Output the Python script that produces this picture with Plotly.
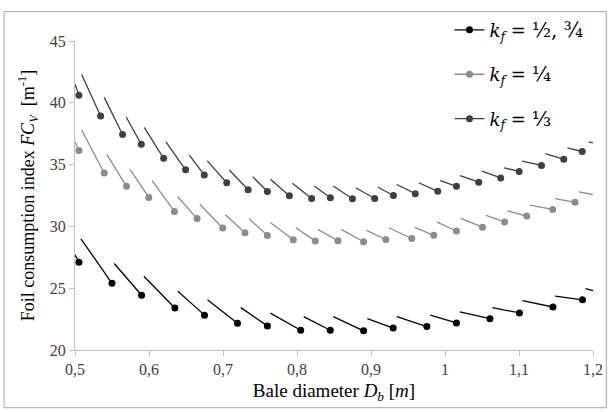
import plotly.graph_objects as go

# ---- data: each segment runs from a start point to a dot (end point) ----
# k_f = 1/2, 3/4 (black)
blk_start_x = [0.500, 0.508, 0.553, 0.593, 0.639, 0.679, 0.724, 0.764, 0.809, 0.849, 0.895, 0.935, 0.980, 1.020, 1.064, 1.1046, 1.149]
blk_start_y = [27.7, 29.0, 27.0, 25.96, 24.75, 24.06, 23.43, 22.98, 22.7, 22.7, 22.53, 22.7, 22.82, 23.09, 23.43, 24.0, 24.35]
blk_dot_x = [0.5053, 0.550, 0.590, 0.635, 0.675, 0.7196, 0.760, 0.805, 0.845, 0.890, 0.930, 0.9755, 1.0155, 1.0607, 1.1006, 1.1459, 1.1858]
blk_dot_y = [27.1, 25.4, 24.43, 23.4, 22.82, 22.16, 21.95, 21.6, 21.6, 21.55, 21.77, 21.9, 22.19, 22.53, 23.0, 23.48, 24.06]
blk_tail_x = [1.190, 1.200]
blk_tail_y = [24.96, 24.8]

# k_f = 1/4 (mid grey)
gry_start_x = [0.500, 0.509, 0.543, 0.5741, 0.6042, 0.6388, 0.6686, 0.7032, 0.7352, 0.7639, 0.7985, 0.8283, 0.8597, 0.8939, 0.9241, 0.9591, 0.9893, 1.0212, 1.0554, 1.0842, 1.1144, 1.149]
gry_start_y = [36.83, 37.8, 35.82, 34.64, 33.71, 32.4, 31.79, 30.94, 30.63, 30.31, 29.89, 29.76, 29.76, 29.68, 29.89, 29.92, 30.34, 30.65, 30.89, 31.26, 31.73, 32.24]
gry_dot_x = [0.5053, 0.5395, 0.5696, 0.5998, 0.6344, 0.665, 0.6996, 0.7297, 0.760, 0.795, 0.8247, 0.8553, 0.8899, 0.9201, 0.9551, 0.9848, 1.0154, 1.0506, 1.0806, 1.1105, 1.1455, 1.1757]
gry_dot_y = [36.14, 34.32, 33.24, 32.34, 31.21, 30.63, 29.87, 29.49, 29.26, 28.92, 28.81, 28.84, 28.76, 28.94, 29.02, 29.28, 29.63, 29.94, 30.36, 30.84, 31.37, 31.95]
gry_tail_x = [1.181, 1.200]
gry_tail_y = [32.79, 32.58]

# k_f = 1/3 (dark grey)
dk_start_x = [0.500, 0.509, 0.5395, 0.5692, 0.5936, 0.6229, 0.6544, 0.6788, 0.7085, 0.740, 0.764, 0.7937, 0.8234, 0.849, 0.8793, 0.909, 0.9348, 0.9645, 0.9937, 1.0204, 1.050, 1.0798, 1.1042, 1.1357, 1.1654]
dk_start_y = [41.5, 42.29, 40.44, 38.85, 38.01, 36.83, 35.77, 35.30, 34.56, 34.03, 33.82, 33.5, 33.27, 33.27, 33.13, 33.19, 33.39, 33.53, 33.71, 34.11, 34.48, 34.74, 35.29, 35.88, 36.35]
dk_dot_x = [0.5053, 0.5346, 0.5643, 0.5896, 0.6198, 0.6495, 0.6747, 0.705, 0.734, 0.760, 0.7897, 0.8198, 0.8451, 0.8749, 0.905, 0.9303, 0.9598, 0.9902, 1.0155, 1.0456, 1.0753, 1.1002, 1.1304, 1.1605, 1.1854]
dk_dot_y = [40.62, 38.93, 37.43, 36.64, 35.51, 34.58, 34.16, 33.53, 32.97, 32.82, 32.48, 32.26, 32.32, 32.24, 32.26, 32.5, 32.65, 32.84, 33.24, 33.58, 33.92, 34.45, 34.93, 35.43, 36.06]
dk_tail_x = [1.1943, 1.200]
dk_tail_y = [36.83, 36.75]

x_tick_vals = [0.5, 0.6, 0.7, 0.8, 0.9, 1.0, 1.1, 1.2]
x_tick_text = ["0,5", "0,6", "0,7", "0,8", "0,9", "1", "1,1", "1,2"]
y_tick_vals = [20, 25, 30, 35, 40, 45]

series = [
    ("<i>k<sub>f</sub></i> = <span style='font-size:20px'>½, ¾</span>", "#000000",
     blk_start_x, blk_start_y, blk_dot_x, blk_dot_y, blk_tail_x, blk_tail_y),
    ("<i>k<sub>f</sub></i> = <span style='font-size:20px'>¼</span>", "#8c8c8c",
     gry_start_x, gry_start_y, gry_dot_x, gry_dot_y, gry_tail_x, gry_tail_y),
    ("<i>k<sub>f</sub></i> = <span style='font-size:20px'>⅓</span>", "#404040",
     dk_start_x, dk_start_y, dk_dot_x, dk_dot_y, dk_tail_x, dk_tail_y),
]

fig = go.Figure()
for i, (name, color, sx, sy, dx, dy, tx, ty) in enumerate(series):
    lx, ly = [], []
    for a, b, c, d in zip(sx, sy, dx, dy):
        lx += [a, c, None]
        ly += [b, d, None]
    lx += tx
    ly += ty
    fig.add_trace(go.Scatter(x=lx, y=ly, mode="lines", connectgaps=False,
                             line=dict(color=color, width=1.3),
                             showlegend=False, hoverinfo="skip"))
    fig.add_trace(go.Scatter(x=dx, y=dy, mode="markers",
                             marker=dict(color=color, size=7),
                             showlegend=False))
    fig.add_trace(go.Scatter(x=[None], y=[None], mode="lines+markers", name=name,
                             line=dict(color=color, width=1.3),
                             marker=dict(color=color, size=7),
                             legendgroup=f"g{i}"))

serif = "Liberation Serif, Times New Roman, serif"
axis_font = dict(family=serif, size=16, color="#404040")

fig.update_layout(
    width=615, height=412,
    margin=dict(l=75, r=14, t=34, b=62),
    paper_bgcolor="white", plot_bgcolor="white",
    showlegend=True,
    legend=dict(x=0.723, y=1.095, xanchor="left", yanchor="top",
                font=dict(family="DejaVu Serif, serif", size=18, color="#000000"),
                bgcolor="rgba(0,0,0,0)", tracegroupgap=18, itemwidth=30),
    xaxis=dict(range=[0.5, 1.2], tickvals=x_tick_vals, ticktext=x_tick_text,
               showgrid=False, zeroline=False, showline=True, linecolor="#bfbfbf",
               linewidth=1, ticks="outside", ticklen=5, tickcolor="#bfbfbf",
               tickfont=axis_font, ticklabeloverflow="allow",
               title=dict(text="Bale diameter <i>D<sub>b</sub></i> [<i>m</i>]",
                          font=dict(family=serif, size=19, color="#000000"),
                          standoff=6)),
    yaxis=dict(range=[20, 45], tickvals=y_tick_vals,
               showgrid=False, zeroline=False, showline=True, linecolor="#bfbfbf",
               linewidth=1, ticks="outside", ticklen=5, tickcolor="#bfbfbf",
               tickfont=axis_font,
               title=dict(text="Foil consumption index <i>FC<sub>V</sub></i>  [m<sup>-1</sup>]",
                          font=dict(family=serif, size=18, color="#000000"),
                          standoff=10)),
    shapes=[dict(type="rect", xref="paper", yref="paper",
                 x0=(3 - 75) / 526, x1=(614.5 - 75) / 526,
                 y0=(350 - 409) / 316, y1=1 + (34 - 4) / 316,
                 line=dict(color="#a6a6a6", width=1), fillcolor="rgba(0,0,0,0)")],
)

fig.write_html("out.html", config={"displayModeBar": False},
               post_script="document.body.style.margin='0';document.body.style.overflow='hidden';")
